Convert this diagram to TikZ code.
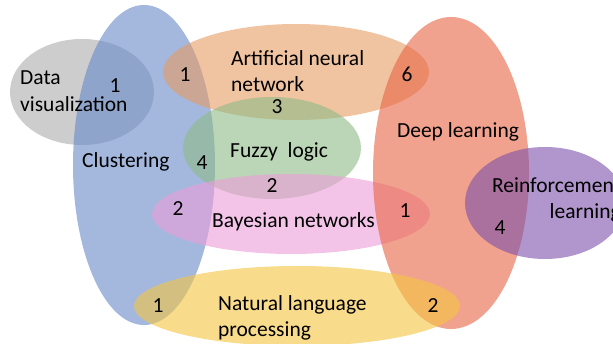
\documentclass[tikz,border=0pt]{standalone}
\usepackage{fontspec}
\setmainfont{Carlito}
\begin{document}
\begin{tikzpicture}[x=1pt,y=-1pt,
  set/.style={fill opacity=0.6,draw=none},
  lbl/.style={font=\fontsize{21.5}{26.5}\selectfont,inner sep=0pt},
  num/.style={font=\fontsize{21.5}{26.5}\selectfont,inner sep=0pt}]
\definecolor{cgray}{RGB}{172,172,172}
\definecolor{cblue}{RGB}{103,137,200}
\definecolor{corange}{RGB}{230,155,98}
\definecolor{cgreen}{RGB}{142,187,133}
\definecolor{cpink}{RGB}{237,157,217}
\definecolor{cred}{RGB}{232,100,67}
\definecolor{cpurple}{RGB}{123,80,170}
\definecolor{cyellow}{RGB}{243,197,63}
\useasboundingbox (0,0) rectangle (613,344);
% sets
\fill[set,cgray]   (82,92)   ellipse [x radius=72, y radius=53];
\fill[set,cblue]   (144,165) ellipse [x radius=71, y radius=160];
\fill[set,corange] (296,72)  ellipse [x radius=133, y radius=48];
\fill[set,cgreen]  (272,148) ellipse [x radius=89, y radius=51];
\fill[set,cpink]   (291,214) ellipse [x radius=139, y radius=40];
\fill[set,cred]    (451,173) ellipse [x radius=78, y radius=156];
\fill[set,cpurple] (545,203) ellipse [x radius=80, y radius=56];
\fill[set,cyellow] (297,306) ellipse [x radius=163, y radius=40];
% set names
\node[lbl,align=left,anchor=west] (dv) at (20,91) {Data\\visualization};
\node[lbl,anchor=west] (cl) at (82,162) {Clustering};
\node[lbl,align=left,anchor=west] (ann) at (231,71) {Artificial neural\\network};
\node[lbl,anchor=west] (fl) at (230,152) {Fuzzy\ \ logic};
\node[lbl,anchor=center] (dl) at (458,132) {Deep learning};
\node[lbl,anchor=west] (bn) at (212,222) {Bayesian networks};
\node[lbl,align=right,anchor=east] (rl) at (621,200) {Reinforcement\\learning};
\node[lbl,align=left,anchor=west] (nlp) at (218,318) {Natural language\\processing};
% counts
\node[num] (n1) at (115,86) {1};
\node[num] (n2) at (185,75) {1};
\node[num] (n3) at (407,74) {6};
\node[num] (n4) at (277,107) {3};
\node[num] (n5) at (202,163) {4};
\node[num] (n6) at (272,186) {2};
\node[num] (n7) at (178,209) {2};
\node[num] (n8) at (405,211) {1};
\node[num] (n9) at (500,228) {4};
\node[num] (n10) at (158,306) {1};
\node[num] (n11) at (433,306) {2};
\end{tikzpicture}
\end{document}
